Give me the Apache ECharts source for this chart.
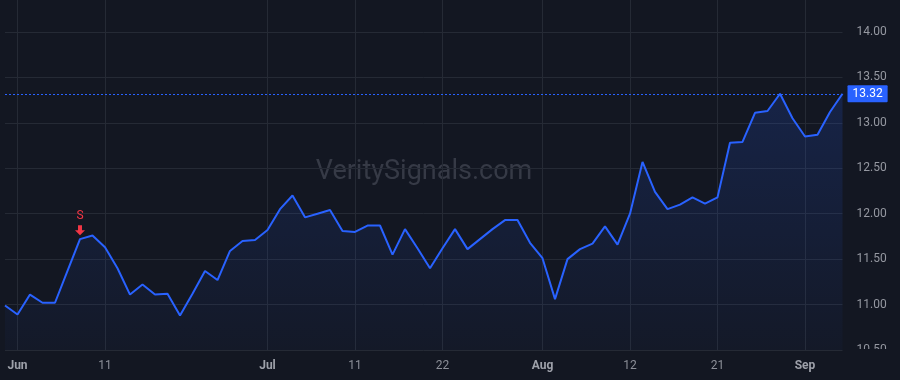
<!DOCTYPE html>
<html>
<head>
<meta charset="utf-8">
<script src="https://cdn.jsdelivr.net/npm/echarts@6/dist/echarts.min.js"></script>
<style>
html,body{margin:0;padding:0;background:#131722;}
#chart{width:900px;height:380px;}
</style>
</head>
<body>
<div id="chart"></div>
<script>
var dates = [
'2025-05-30',
'2025-06-02','2025-06-03','2025-06-04','2025-06-05','2025-06-06',
'2025-06-09','2025-06-10','2025-06-11','2025-06-12','2025-06-13',
'2025-06-16','2025-06-17','2025-06-18','2025-06-20',
'2025-06-23','2025-06-24','2025-06-25','2025-06-26','2025-06-27',
'2025-06-30',
'2025-07-01','2025-07-02','2025-07-03',
'2025-07-07','2025-07-08','2025-07-09','2025-07-10','2025-07-11',
'2025-07-14','2025-07-15','2025-07-16','2025-07-17','2025-07-18',
'2025-07-21','2025-07-22','2025-07-23','2025-07-24','2025-07-25',
'2025-07-28','2025-07-29','2025-07-30','2025-07-31',
'2025-08-01',
'2025-08-04','2025-08-05','2025-08-06','2025-08-07','2025-08-08',
'2025-08-11','2025-08-12','2025-08-13','2025-08-14','2025-08-15',
'2025-08-18','2025-08-19','2025-08-20','2025-08-21','2025-08-22',
'2025-08-25','2025-08-26','2025-08-27','2025-08-28','2025-08-29',
'2025-09-02','2025-09-03','2025-09-04','2025-09-05'
];
var values = [
10.99,
10.89,11.11,11.02,11.02,11.37,
11.72,11.76,11.63,11.40,11.11,
11.22,11.11,11.12,10.88,
11.12,11.37,11.27,11.59,11.70,
11.71,
11.82,12.05,12.20,
11.96,12.00,12.04,11.81,11.80,
11.87,11.87,11.55,11.83,11.62,
11.40,11.62,11.83,11.61,11.72,
11.83,11.93,11.93,11.68,
11.51,
11.06,11.50,11.61,11.67,11.86,
11.66,12.00,12.57,12.24,12.05,
12.10,12.18,12.11,12.18,12.78,
12.79,13.11,13.13,13.32,13.05,
12.85,12.87,13.12,13.32
];
var tickDates = ['2025-06-02','2025-06-11','2025-07-01','2025-07-11','2025-07-22','2025-08-01','2025-08-12','2025-08-21','2025-09-02'];
var tickLabels = ['Jun','11','Jul','11','22','Aug','12','21','Sep'];
var monthLabels = ['Jun','Jul','Aug','Sep'];
var lastPrice = 13.32;
var signalDate = '2025-06-09';
var signalText = 'S';
var watermark = 'VeritySignals.com';

var FONT = 'Roboto, "Liberation Sans", Arial, sans-serif';
var BG = '#131722';
var GRID = '#252a35';
var BLUE = '#2962ff';
var RED = '#f23645';

function isTick(i, v) { return tickDates.indexOf(v) >= 0; }

var chart = echarts.init(document.getElementById('chart'), null, {renderer: 'canvas'});
var sigIdx = dates.indexOf(signalDate);
chart.setOption({
  animation: false,
  backgroundColor: BG,
  textStyle: {fontFamily: FONT},
  grid: {left: 5, right: 57.5, top: 0, bottom: 30, containLabel: false},
  graphic: [
    {type: 'text', z: 0, silent: true,
     style: {text: watermark, x: 424, y: 172, fill: '#363a46', font: '27px ' + FONT, textAlign: 'center', textVerticalAlign: 'middle'}},
    {type: 'rect', z: 100, silent: true, shape: {x: 843, y: 349, width: 57, height: 31}, style: {fill: BG}}
  ],
  xAxis: {
    type: 'category',
    data: dates,
    boundaryGap: false,
    axisLine: {show: false},
    axisTick: {show: false},
    axisLabel: {
      interval: isTick,
      margin: 10,
      fontSize: 12,
      fontFamily: FONT,
      formatter: function (v) {
        var k = tickDates.indexOf(v);
        if (k < 0) return '';
        var t = tickLabels[k];
        return monthLabels.indexOf(t) >= 0 ? '{m|' + t + '}' : '{d|' + t + '}';
      },
      rich: {
        m: {fontWeight: 'bold', color: '#9ea1aa', fontSize: 12, fontFamily: FONT},
        d: {color: '#8c8f98', fontSize: 12, fontFamily: FONT}
      }
    },
    splitLine: {show: true, interval: isTick, lineStyle: {color: GRID, width: 1}}
  },
  yAxis: {
    type: 'value',
    position: 'right',
    min: 10.5,
    max: 14.352,
    interval: 0.5,
    axisLine: {show: false},
    axisTick: {show: false},
    axisLabel: {
      showMaxLabel: false,
      align: 'left',
      margin: 14,
      color: '#9598a1',
      fontSize: 12,
      fontFamily: FONT,
      formatter: function (v) { return v.toFixed(2); }
    },
    splitLine: {show: true, showMaxLine: false, lineStyle: {color: GRID, width: 1}}
  },
  series: [{
    type: 'line',
    data: values,
    symbol: 'none',
    lineStyle: {color: BLUE, width: 2},
    itemStyle: {color: BLUE},
    areaStyle: {
      origin: 'start',
      color: new echarts.graphic.LinearGradient(0, 0, 0, 1, [
        {offset: 0, color: 'rgba(41,98,255,0.24)'},
        {offset: 1, color: 'rgba(41,98,255,0.04)'}
      ])
    },
    markLine: {
      silent: true,
      symbol: ['none', 'none'],
      lineStyle: {color: BLUE, width: 1, type: [2, 2]},
      label: {
        show: true,
        position: 'end',
        distance: 5,
        formatter: function () { return lastPrice.toFixed(2); },
        color: '#ffffff',
        backgroundColor: BLUE,
        padding: [3, 5, 2, 5],
        borderRadius: 1,
        fontSize: 12,
        fontFamily: FONT
      },
      data: [{yAxis: lastPrice}]
    },
    markPoint: {
      silent: true,
      data: [{
        coord: [sigIdx, values[sigIdx]],
        symbol: 'path://M3,0 L7,0 L7,5 L10,5 L5,10 L0,5 L3,5 Z',
        symbolSize: [10, 10],
        symbolOffset: [0, -9],
        itemStyle: {color: RED},
        label: {show: true, position: 'top', distance: 3, formatter: signalText, color: RED, fontSize: 12, fontFamily: FONT}
      }]
    }
  }]
});
</script>
</body>
</html>
